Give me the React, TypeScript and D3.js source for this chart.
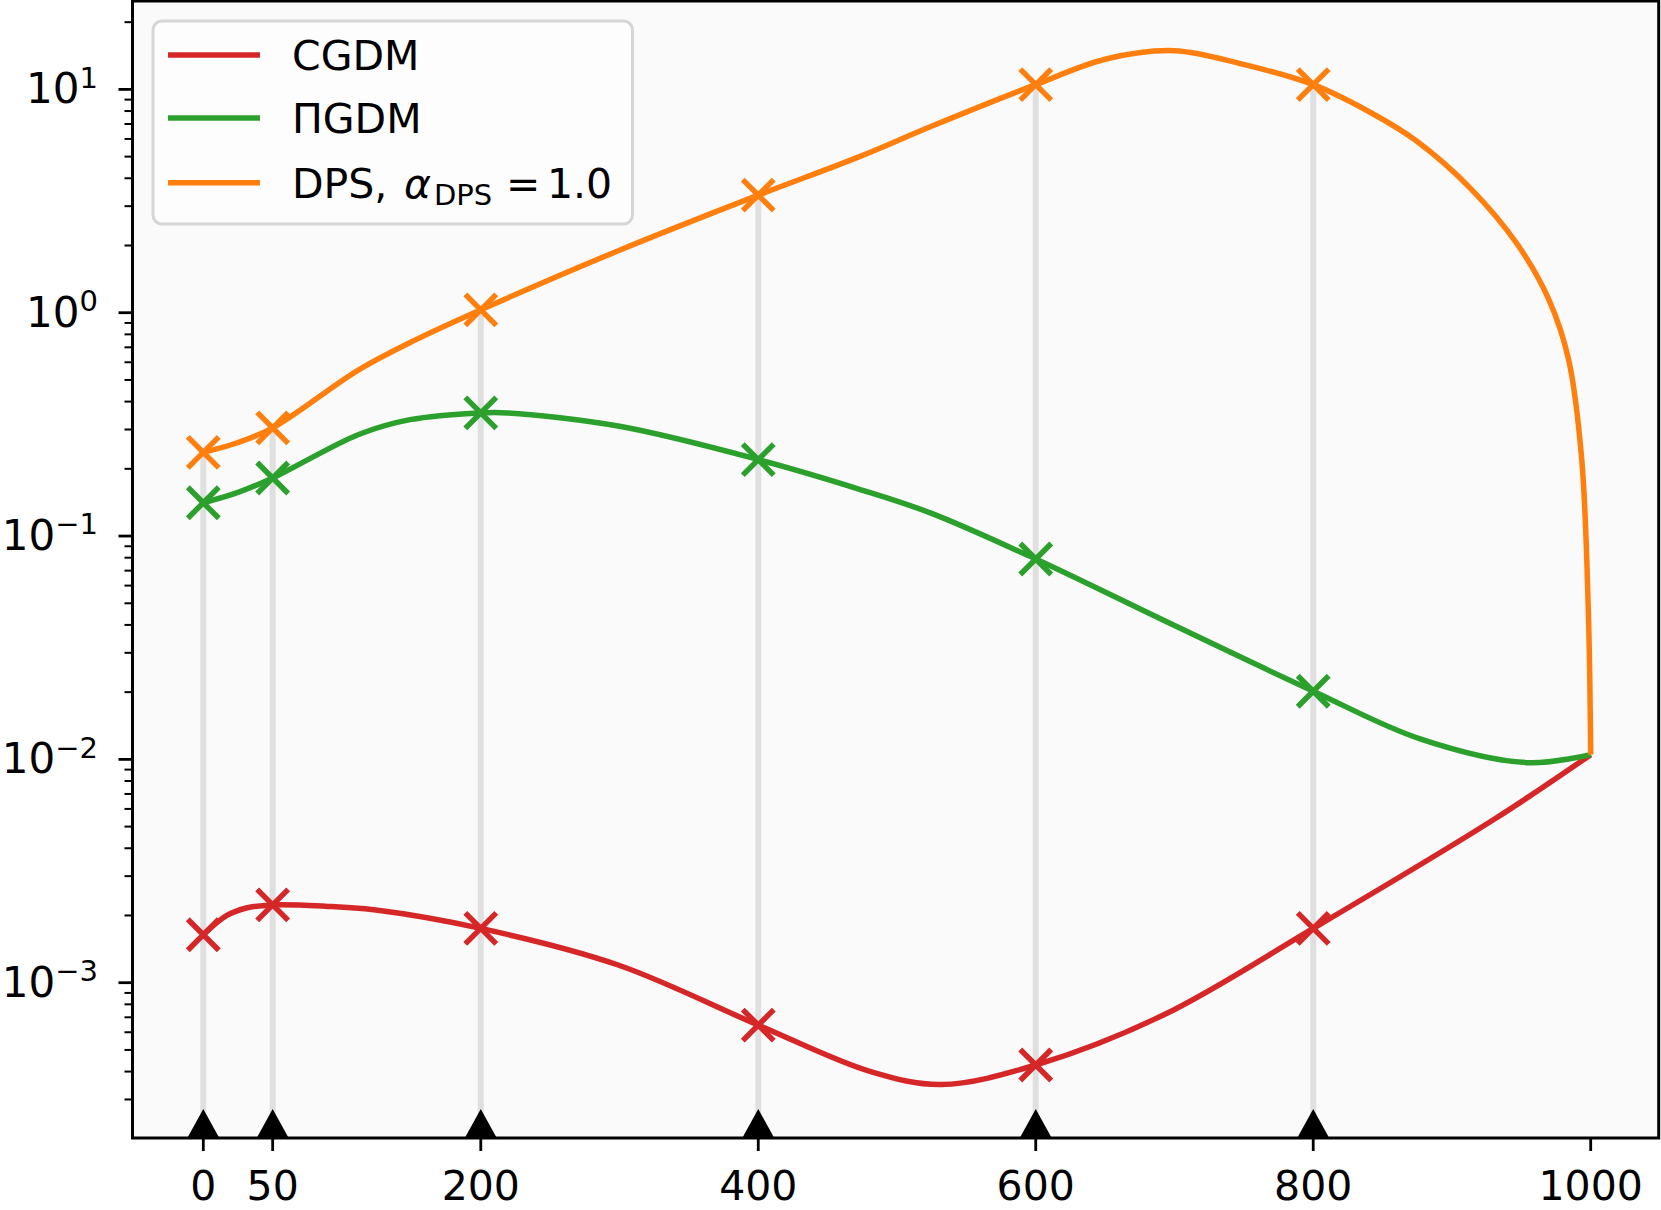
import React from 'react';
import * as d3 from 'd3';

const W = 1661;
const H = 1210;

// ---- data ----
const xTickValues = [0, 50, 200, 400, 600, 800, 1000];
const markerSteps = [0, 50, 200, 400, 600, 800];
const yMajorExponents = [-3, -2, -1, 0, 1];

const cgdmT = [0, 17, 31, 50, 88, 123, 200, 299, 400, 481, 532, 600, 692, 800, 931, 1000];
const cgdmV = [0.00164, 0.002, 0.00216, 0.00223, 0.0022, 0.00212, 0.00175, 0.0012, 0.000646, 0.0004, 0.00035, 0.000428, 0.000716, 0.00175, 0.00542, 0.0105];

const pgdmT = [0, 24, 50, 112, 149, 200, 219, 300, 400, 473, 524, 600, 694, 800, 877, 955, 1000];
const pgdmV = [0.141, 0.156, 0.182, 0.285, 0.332, 0.356, 0.356, 0.31, 0.22, 0.162, 0.127, 0.0789, 0.0414, 0.0202, 0.01236, 0.00966, 0.0105];

const dpsT = [0, 24, 50, 112, 153, 200, 300, 400, 473, 524, 600, 650, 700, 749, 800, 841, 874, 914, 947, 970, 984, 993.5, 998.3, 1000];
const dpsV = [0.237, 0.261, 0.305, 0.555, 0.756, 1.03, 1.905, 3.36, 5.0, 6.8, 10.5, 13.65, 14.9, 12.97, 10.5, 7.9, 5.9, 3.57, 2.03, 1.14, 0.62, 0.222, 0.046, 0.0105];

const seriesNames = ['CGDM', 'ΠGDM', 'DPS'];
const seriesColors = ['#d62728', '#2ca02c', '#ff7f0e'];

const FONT = '"DejaVu Sans", Verdana, sans-serif';

export default function App() {
  const left = 132.5;
  const right = 1658.7;
  const top = 1;
  const bottom = 1138;

  const x = d3.scaleLinear().domain([0, 1000]).range([203.3, 1590.7]);
  const y = d3.scaleLog().domain([1e-3, 10]).range([982.7, 89.4]);

  const series = [
    { name: seriesNames[0], color: seriesColors[0], t: cgdmT, v: cgdmV },
    { name: seriesNames[1], color: seriesColors[1], t: pgdmT, v: pgdmV },
    { name: seriesNames[2], color: seriesColors[2], t: dpsT, v: dpsV },
  ];

  const line = d3
    .line<[number, number]>()
    .x((d) => x(d[0]))
    .y((d) => y(d[1]))
    .curve(d3.curveCatmullRom.alpha(0.5));

  const valueAt = (s: { t: number[]; v: number[] }, step: number) => s.v[s.t.indexOf(step)];

  // minor ticks
  const minor: number[] = [];
  for (let e = -4; e <= 1; e++) {
    for (let k = 2; k <= 9; k++) {
      const val = k * Math.pow(10, e);
      const py = y(val);
      if (py >= top && py <= bottom) minor.push(val);
    }
  }

  const xs = 15.5; // half-size of x markers

  return (
    <svg
      width={W}
      height={H}
      style={{ position: 'absolute', left: 0, top: 0, background: '#ffffff' }}
      fontFamily={FONT}
    >
      <defs>
        <clipPath id="plotclip">
          <rect x={left} y={top} width={right - left} height={bottom - top} />
        </clipPath>
      </defs>
      <rect x={left} y={top} width={right - left} height={bottom - top} fill="#fafafa" />

      {/* vertical guide lines */}
      <g clipPath="url(#plotclip)">
        {markerSteps.map((s) => {
          const maxV = Math.max(...series.map((sr) => valueAt(sr, s)));
          return (
            <line
              key={'vl' + s}
              x1={x(s)}
              x2={x(s)}
              y1={bottom}
              y2={y(maxV)}
              stroke="#e0e0e0"
              strokeWidth={6}
            />
          );
        })}
      </g>

      {/* series */}
      <g clipPath="url(#plotclip)">
        {series.map((s) => (
          <g key={s.name}>
            <path
              d={line(s.t.map((t, i) => [t, s.v[i]] as [number, number])) || ''}
              fill="none"
              stroke={s.color}
              strokeWidth={5.5}
              strokeLinejoin="round"
            />
            {markerSteps.map((st) => {
              const cx = x(st);
              const cy = y(valueAt(s, st));
              return (
                <path
                  key={s.name + st}
                  d={`M${cx - xs},${cy - xs}L${cx + xs},${cy + xs}M${cx - xs},${cy + xs}L${cx + xs},${cy - xs}`}
                  stroke={s.color}
                  strokeWidth={5.5}
                  fill="none"
                />
              );
            })}
          </g>
        ))}
      </g>

      {/* triangles at the bottom */}
      {markerSteps.map((s) => {
        const cx = x(s);
        return (
          <path
            key={'tri' + s}
            d={`M${cx},${bottom - 29}L${cx + 16},${bottom}L${cx - 16},${bottom}Z`}
            fill="#000"
          />
        );
      })}

      {/* spines */}
      <rect
        x={left}
        y={top}
        width={right - left}
        height={bottom - top}
        fill="none"
        stroke="#000"
        strokeWidth={3}
      />

      {/* y ticks */}
      {yMajorExponents.map((e) => {
        const py = y(Math.pow(10, e));
        return (
          <g key={'ym' + e}>
            <line x1={left - 14} x2={left} y1={py} y2={py} stroke="#000" strokeWidth={2.8} />
            <text x={98} y={py + 14} textAnchor="end" fontSize={42} fill="#000">
              <tspan>10</tspan>
              <tspan dy={-15.6} fontSize={29}>
                {e < 0 ? '\u2212' + Math.abs(e) : String(e)}
              </tspan>
            </text>
          </g>
        );
      })}
      {minor.map((v, i) => {
        const py = y(v);
        return <line key={'yn' + i} x1={left - 8} x2={left} y1={py} y2={py} stroke="#000" strokeWidth={2} />;
      })}

      {/* x ticks */}
      {xTickValues.map((v) => (
        <g key={'xt' + v}>
          <line x1={x(v)} x2={x(v)} y1={bottom} y2={bottom + 13} stroke="#000" strokeWidth={2.8} />
          <text x={x(v)} y={1200} textAnchor="middle" fontSize={41} fill="#000">
            {v}
          </text>
        </g>
      ))}

      {/* legend */}
      <g>
        <rect x={153} y={21} width={479.5} height={203} rx={9} ry={9} fill="#fdfdfd" stroke="#d6d6d6" strokeWidth={3} />
        {series.map((s, i) => {
          const ly = [55, 118, 182.7][i];
          return (
            <g key={'lg' + s.name}>
              <line x1={168} x2={260} y1={ly} y2={ly} stroke={s.color} strokeWidth={5.5} />
              {i < 2 ? (
                <text x={292} y={ly + 15.3} fontSize={41} fill="#000">
                  {s.name}
                </text>
              ) : (
                <text x={292} y={ly + 15.3} fontSize={41} fill="#000">
                  <tspan>DPS,</tspan>
                  <tspan x={404} fontStyle="italic">α</tspan>
                  <tspan x={434} dy={6.5} fontSize={29}>DPS</tspan>
                  <tspan x={506} dy={-6.5}>=</tspan>
                  <tspan x={547}>1.0</tspan>
                </text>
              )}
            </g>
          );
        })}
      </g>
    </svg>
  );
}
